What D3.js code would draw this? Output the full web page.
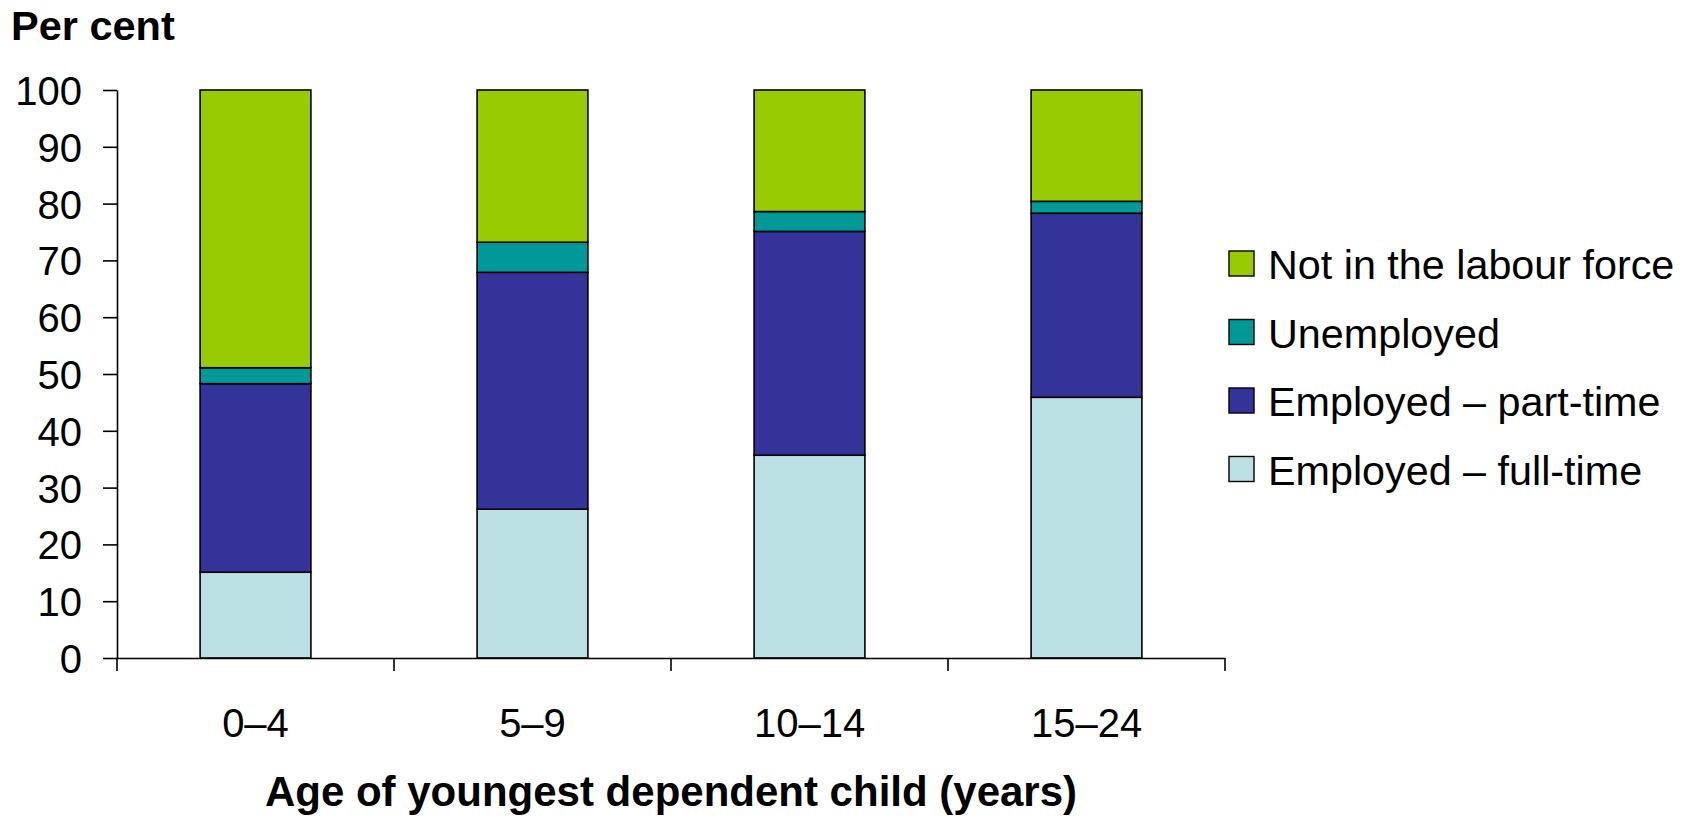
<!DOCTYPE html>
<html>
<head>
<meta charset="utf-8">
<script src="https://cdn.jsdelivr.net/npm/d3@7"></script>
<style>
  body { margin: 0; background: #fff; }
  text { font-family: "Liberation Sans", Arial, sans-serif; fill: #000; }
</style>
</head>
<body>
<svg id="chart" width="1691" height="818"></svg>
<script>
// age groups and shares (per cent)
var ages = ['0–4', '5–9', '10–14', '15–24'];
var fullTime = [15.1, 26.2, 35.7, 45.9];
var partTime = [33.2, 41.7, 39.4, 32.4];
var unemployed = [2.8, 5.3, 3.5, 2.1];
var notInLF = [48.9, 26.8, 21.4, 19.6];
var yTicks = [0, 10, 20, 30, 40, 50, 60, 70, 80, 90, 100];

var seriesNames = ['Employed – full-time', 'Employed – part-time', 'Unemployed', 'Not in the labour force'];
var seriesColors = ['#BBE0E3', '#333399', '#009999', '#99CC00'];

var margin = { top: 90, left: 117, right: 466, bottom: 160 };
var width = 1691 - margin.left - margin.right;
var height = 818 - margin.top - margin.bottom;

var svg = d3.select('#chart');
var g = svg.append('g').attr('transform', 'translate(' + margin.left + ',' + margin.top + ')');

var rows = ages.map(function (a, i) {
  return { age: a, s0: fullTime[i], s1: partTime[i], s2: unemployed[i], s3: notInLF[i] };
});

var stack = d3.stack().keys(['s0', 's1', 's2', 's3']);
var stacked = stack(rows);

var xScale = d3.scaleBand()
  .domain(ages)
  .range([0, width])
  .paddingInner(0.6)
  .paddingOuter(0.3);

var yScale = d3.scaleLinear()
  .domain([0, 100])
  .range([height, 0]);

// bars
g.selectAll('.series')
  .data(stacked)
  .enter()
  .append('g')
  .attr('class', 'series')
  .attr('fill', function (d, i) { return seriesColors[i]; })
  .selectAll('rect')
  .data(function (d) { return d; })
  .enter()
  .append('rect')
  .attr('x', function (d) { return xScale(d.data.age); })
  .attr('y', function (d) { return yScale(d[1]); })
  .attr('width', xScale.bandwidth())
  .attr('height', function (d) { return yScale(d[0]) - yScale(d[1]); })
  .attr('stroke', '#000')
  .attr('stroke-width', 1.6);

// y axis
var yAxis = g.append('g')
  .attr('class', 'y axis')
  .call(d3.axisLeft(yScale).tickValues(yTicks).tickSize(14).tickPadding(21).tickSizeOuter(0));
yAxis.selectAll('text').style('font-size', '40px').attr('dy', '0.36em');
yAxis.selectAll('line, path').attr('stroke', '#000').attr('stroke-width', 1.6);

// x axis (labels centred in bands, ticks at band boundaries)
var xAxis = g.append('g')
  .attr('class', 'x axis')
  .attr('transform', 'translate(0,' + height + ')')
  .call(d3.axisBottom(xScale).tickSize(0).tickSizeOuter(0));
xAxis.select('path').attr('stroke', '#000').attr('stroke-width', 1.6);
xAxis.selectAll('text').style('font-size', '40px').attr('dy', null).attr('y', 79);

var bounds = ages.map(function (a) { return xScale(a) - xScale.step() * 0.3; }).concat([width]);
xAxis.selectAll('.bound')
  .data(bounds)
  .enter()
  .append('line')
  .attr('class', 'bound')
  .attr('x1', function (d) { return d; })
  .attr('x2', function (d) { return d; })
  .attr('y1', 0)
  .attr('y2', 13)
  .attr('stroke', '#000')
  .attr('stroke-width', 1.6);

// titles
svg.append('text')
  .attr('x', 11)
  .attr('y', 40)
  .style('font-size', '41.5px')
  .style('font-weight', 'bold')
  .text('Per cent');

svg.append('text')
  .attr('x', margin.left + width / 2)
  .attr('y', 806)
  .attr('text-anchor', 'middle')
  .style('font-size', '42px')
  .style('font-weight', 'bold')
  .text('Age of youngest dependent child (years)');

// legend, top item is the top series
var legendOrder = [3, 2, 1, 0];
var legend = svg.append('g').attr('transform', 'translate(1229,279)');
var items = legend.selectAll('.item')
  .data(legendOrder)
  .enter()
  .append('g')
  .attr('class', 'item')
  .attr('transform', function (d, i) { return 'translate(0,' + (i * 68.5) + ')'; });

items.append('rect')
  .attr('x', 0)
  .attr('y', -28)
  .attr('width', 25)
  .attr('height', 25)
  .attr('fill', function (d) { return seriesColors[d]; })
  .attr('stroke', '#000')
  .attr('stroke-width', 1.4);

items.append('text')
  .attr('x', 39)
  .attr('y', 0)
  .style('font-size', '41.3px')
  .text(function (d) { return seriesNames[d]; });
</script>
</body>
</html>
